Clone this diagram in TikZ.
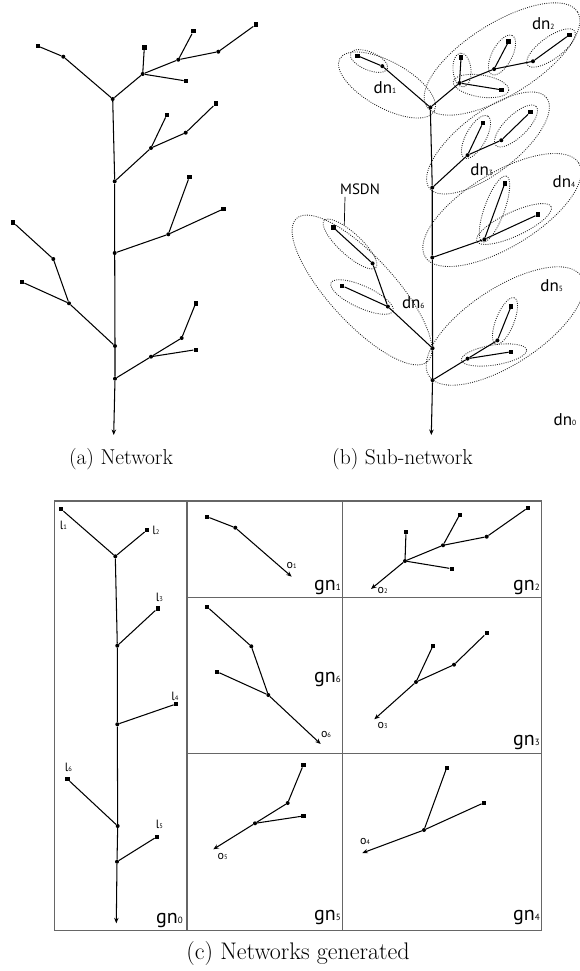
\documentclass[tikz,border=0pt]{standalone}
\usepackage{fontspec}
\newfontfamily\lab{PT Sans}
\usetikzlibrary{arrows.meta}
\newcommand\drawtree[1]{%
 \node[jn] (#1R1) at (112.7,99) {};
 \node[jn] (#1A1) at (63.3,56.7) {};
 \node[leaf] (#1L1) at (37.7,46) {};
 \node[jn] (#1B1) at (142.7,74) {};
 \node[leaf] (#1L2) at (144.3,47.7) {};
 \node[leaf] (#1L3) at (186,81) {};
 \node[jn] (#1B2) at (178.3,59.7) {};
 \node[leaf] (#1L4) at (193.3,31.3) {};
 \node[jn] (#1B3) at (218.3,51.7) {};
 \node[leaf] (#1L5) at (255.7,24.7) {};
 \node[jn] (#1J2) at (114.7,181.3) {};
 \node[jn] (#1C1) at (151,148) {};
 \node[leaf] (#1L6) at (166.7,115) {};
 \node[jn] (#1C2) at (185.7,132.7) {};
 \node[leaf] (#1L7) at (215.7,103.7) {};
 \node[jn] (#1J3) at (114.7,253) {};
 \node[jn] (#1D1) at (168.3,234.3) {};
 \node[leaf] (#1L8) at (189.3,177) {};
 \node[leaf] (#1L9) at (223.3,209) {};
 \node[jn] (#1J4) at (115,346) {};
 \node[jn] (#1F1) at (69,303.3) {};
 \node[jn] (#1F2) at (53.3,259) {};
 \node[leaf] (#1L12) at (13,222.3) {};
 \node[leaf] (#1L13) at (22,282) {};
 \node[jn] (#1J5) at (115,378.7) {};
 \node[jn] (#1E1) at (151,356.7) {};
 \node[jn] (#1E2) at (181.7,338) {};
 \node[leaf] (#1L10) at (195.7,303.3) {};
 \node[leaf] (#1L11) at (195.7,349.7) {};
 \coordinate (#1T) at (113.7,435);
 \draw[ln] (#1L1) -- (#1A1) -- (#1R1) -- (#1J2) -- (#1J3) -- (#1J4) -- (#1J5);
 \draw[ln,outarr] (#1J5) -- (#1T);
 \draw[ln] (#1R1) -- (#1B1) -- (#1B2) -- (#1B3) -- (#1L5);
 \draw[ln] (#1B1) -- (#1L2); \draw[ln] (#1B1) -- (#1L3); \draw[ln] (#1B2) -- (#1L4);
 \draw[ln] (#1J2) -- (#1C1) -- (#1C2) -- (#1L7); \draw[ln] (#1C1) -- (#1L6);
 \draw[ln] (#1J3) -- (#1D1) -- (#1L8); \draw[ln] (#1D1) -- (#1L9);
 \draw[ln] (#1J4) -- (#1F1) -- (#1F2) -- (#1L12); \draw[ln] (#1F1) -- (#1L13);
 \draw[ln] (#1J5) -- (#1E1) -- (#1E2) -- (#1L10); \draw[ln] (#1E1) -- (#1L11);
}
\newcommand\grpell[5]{\draw[grp, rotate around={#5:(#1,#2)}] (#1,#2) ellipse [x radius=#3pt, y radius=#4pt];}
\newcommand\dnl[1]{{\lab\fontsize{17}{17}\selectfont dn{\fontsize{7.5}{7.5}\selectfont #1}}}
\newcommand\gnl[1]{{\lab\fontsize{20}{20}\selectfont gn{\fontsize{9}{9}\selectfont #1}}}
\newcommand\sml[2]{{\lab\fontsize{12}{12}\selectfont #1{\fontsize{6.5}{6.5}\selectfont #2}}}
\begin{document}
\begin{tikzpicture}[x=1pt,y=-1pt,
  ln/.style={line width=1.05pt},
  leaf/.style={rectangle,fill=black,draw=none,inner sep=0pt,minimum size=4.4pt},
  jn/.style={circle,fill=black,draw=none,inner sep=0pt,minimum size=4pt},
  outarr/.style={-{Stealth[length=5.5pt,width=4.5pt]}},
  grp/.style={line width=0.85pt,black!85,dash pattern=on 0.9pt off 1.3pt},
  cframe/.style={line width=1.3pt,black!60},
  txt/.style={inner sep=0pt}]
\useasboundingbox (0,0) rectangle (580,971);
% (a)
\drawtree{a}
% (b)
\begin{scope}[shift={(320.78,10.875)},xscale=0.972,yscale=0.975]
\drawtree{b}
\end{scope}
% groups
\grpell{387}{85}{54}{23}{-29}
\grpell{369}{61}{20}{9}{-23}
\grpell{502}{59}{89}{36}{32}
\grpell{462}{70}{17}{9}{95}
\grpell{481}{86}{28}{11}{-9}
\grpell{502}{55}{22}{10}{62}
\grpell{551}{48}{29}{11}{36}
\grpell{488}{143}{74}{30}{37.6}
\grpell{476}{137}{24}{10}{61}
\grpell{516}{126}{28}{11}{44}
\grpell{502}{210}{90}{37}{31.4}
\grpell{494.5}{209}{35}{10}{70}
\grpell{514}{224}{41}{12}{25}
\grpell{505}{326}{91}{38}{33.3}
\grpell{505}{321}{25}{9}{68}
\grpell{494}{355}{33}{10}{9}
\grpell{362}{290}{97}{33}{-47.5}
\grpell{350}{244}{35}{11}{-42.4}
\grpell{362}{297}{34}{11}{-24.5}
\node[txt] (dn1) at (385,87.3) {\dnl{1}};
\node[txt] (dn2) at (543.3,23.3) {\dnl{2}};
\node[txt] (dn3) at (481.7,169.3) {\dnl{3}};
\node[txt] (dn4) at (564,181.7) {\dnl{4}};
\node[txt] (dn5) at (551.7,285.7) {\dnl{5}};
\node[txt] (dn6) at (413.3,302.7) {\dnl{6}};
\node[txt] (dn0) at (565,420) {\dnl{0}};
\node[txt] (msdn) at (360,189.3) {\lab\fontsize{15}{15}\selectfont MSDN};
\coordinate (msdnpt) at (344.3,225);
\draw[line width=0.7pt] ([xshift=-15pt,yshift=-2pt]msdn.south) -- (msdnpt);
% captions
\node[txt] (capa) at (121,459) {\fontsize{21.5}{24}\selectfont (a) Network};
\node[txt] (capb) at (402.5,459) {\fontsize{21.5}{24}\selectfont (b) Sub-network};
\node[txt] (capc) at (298,953) {\fontsize{24}{26}\selectfont (c) Networks generated};
% (c) frame
\draw[cframe] (54.7,501) rectangle (541.7,930.7);
\draw[cframe] (187,501) -- (187,930.7);
\draw[cframe] (342.3,501) -- (342.3,930.7);
\draw[cframe] (187,597.3) -- (541.7,597.3);
\draw[cframe] (187,753.7) -- (541.7,753.7);
% gn0
\node[leaf] (g0l1) at (61,509) {};
\node[jn] (g0a) at (115.3,556.3) {};
\node[leaf] (g0l2) at (147,530) {};
\node[jn] (g0b) at (117.3,645.7) {};
\node[leaf] (g0l3) at (157.7,608.3) {};
\node[jn] (g0c) at (117.3,724.3) {};
\node[leaf] (g0l4) at (176,704) {};
\node[jn] (g0d) at (117.7,826) {};
\node[leaf] (g0l6) at (67.3,779) {};
\node[jn] (g0e) at (117,861.7) {};
\node[leaf] (g0l5) at (157,836.7) {};
\coordinate (g0t) at (116.3,923.3);
\draw[ln] (g0l1) -- (g0a) -- (g0b) -- (g0c) -- (g0d) -- (g0e);
\draw[ln,outarr] (g0e) -- (g0t);
\draw[ln] (g0a) -- (g0l2); \draw[ln] (g0b) -- (g0l3); \draw[ln] (g0c) -- (g0l4);
\draw[ln] (g0d) -- (g0l6); \draw[ln] (g0e) -- (g0l5);
\node[txt] at (63.3,525) {\sml{l}{1}};
\node[txt] at (156,530.7) {\sml{l}{2}};
\node[txt] at (159.3,597.3) {\sml{l}{3}};
\node[txt] at (175,696) {\sml{l}{4}};
\node[txt] at (68.3,767.7) {\sml{l}{6}};
\node[txt] at (159.3,824.3) {\sml{l}{5}};
% gn1
\node[leaf] (g1l) at (207,516.7) {};
\node[jn] (g1a) at (235.3,527.7) {};
\coordinate (g1t) at (291.7,576.7);
\draw[ln] (g1l) -- (g1a); \draw[ln,outarr] (g1a) -- (g1t);
\node[txt] at (291.7,565) {\sml{o}{1}};
% gn2
\node[jn] (g2a) at (405,561) {};
\node[leaf] (g2l1) at (406,532) {};
\node[leaf] (g2l2) at (451.7,568.7) {};
\node[jn] (g2b) at (443,545.3) {};
\node[leaf] (g2l3) at (459.7,514.7) {};
\node[jn] (g2c) at (486.7,536.7) {};
\node[leaf] (g2l4) at (528,507.7) {};
\coordinate (g2t) at (371,589);
\draw[ln] (g2a) -- (g2b) -- (g2c) -- (g2l4);
\draw[ln] (g2a) -- (g2l1); \draw[ln] (g2a) -- (g2l2); \draw[ln] (g2b) -- (g2l3);
\draw[ln,outarr] (g2a) -- (g2t);
\node[txt] at (382.7,590.7) {\sml{o}{2}};
% gn3
\node[leaf] (g3l1) at (433,645.7) {};
\node[jn] (g3a) at (416,682) {};
\node[jn] (g3b) at (454,664.7) {};
\node[leaf] (g3l2) at (486.7,633) {};
\coordinate (g3t) at (374.3,719.3);
\draw[ln] (g3l1) -- (g3a) -- (g3b) -- (g3l2);
\draw[ln,outarr] (g3a) -- (g3t);
\node[txt] at (382.7,725.7) {\sml{o}{3}};
% gn6
\node[leaf] (g6l1) at (207,606.7) {};
\node[jn] (g6a) at (251.3,646.3) {};
\node[leaf] (g6l2) at (217,671.7) {};
\node[jn] (g6b) at (268.3,695) {};
\coordinate (g6t) at (320.7,744);
\draw[ln] (g6l1) -- (g6a) -- (g6b); \draw[ln] (g6l2) -- (g6b);
\draw[ln,outarr] (g6b) -- (g6t);
\node[txt] at (326,734) {\sml{o}{6}};
% gn5
\node[leaf] (g5l1) at (303.3,765) {};
\node[jn] (g5a) at (287.7,803) {};
\node[leaf] (g5l2) at (303.3,816) {};
\node[jn] (g5b) at (255,823.3) {};
\coordinate (g5t) at (213.3,849.3);
\draw[ln] (g5l1) -- (g5a) -- (g5b); \draw[ln] (g5l2) -- (g5b);
\draw[ln,outarr] (g5b) -- (g5t);
\node[txt] at (222.7,856.7) {\sml{o}{5}};
% gn4
\node[leaf] (g4l1) at (446.7,767.7) {};
\node[leaf] (g4l2) at (484,802.7) {};
\node[jn] (g4a) at (424,830) {};
\coordinate (g4t) at (362.3,853);
\draw[ln] (g4l1) -- (g4a); \draw[ln] (g4l2) -- (g4a);
\draw[ln,outarr] (g4a) -- (g4t);
\node[txt] at (365,841.7) {\sml{o}{4}};
% gn labels
\node[txt,anchor=base east] (gn0) at (183,923.3) {\gnl{0}};
\node[txt,anchor=base east] (gn1) at (341,590.7) {\gnl{1}};
\node[txt,anchor=base east] (gn2) at (540,590.7) {\gnl{2}};
\node[txt,anchor=base east] (gn6) at (341,682.3) {\gnl{6}};
\node[txt,anchor=base east] (gn3) at (540,745) {\gnl{3}};
\node[txt,anchor=base east] (gn5) at (341,920.7) {\gnl{5}};
\node[txt,anchor=base east] (gn4) at (540,920.7) {\gnl{4}};
\end{tikzpicture}
\end{document}
